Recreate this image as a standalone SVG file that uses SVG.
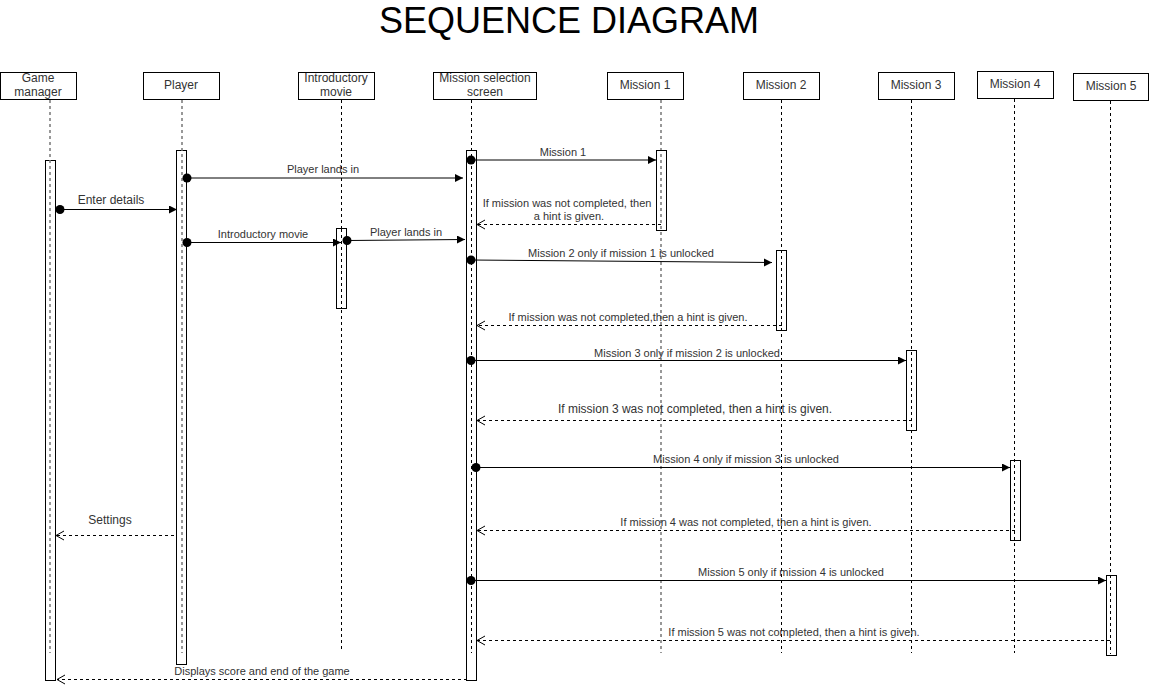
<svg xmlns="http://www.w3.org/2000/svg" width="1150" height="692" viewBox="0 0 1150 692">
<style>
text{font-family:"Liberation Sans",Arial,sans-serif;fill:#333;text-anchor:middle}
.title{font-size:36px;fill:#000}
.hd{font-size:12px}
.lb{font-size:11px}
.lb12{font-size:12px}
.box{fill:#fff;stroke:#000;stroke-width:1}
.act{fill:#fff;stroke:#000;stroke-width:1}
.life{stroke:#000;stroke-width:1;stroke-dasharray:3,3;fill:none}
.lifeg{stroke:#777;stroke-width:1.5;stroke-dasharray:3,3;fill:none}
.msg{stroke:#000;stroke-width:1;fill:none;marker-start:url(#dot);marker-end:url(#fa)}
.ret{stroke:#000;stroke-width:1;stroke-dasharray:3,3;fill:none;marker-end:url(#oa)}
</style>
<defs>
<marker id="fa" markerUnits="userSpaceOnUse" markerWidth="10" markerHeight="10" refX="8" refY="4" orient="auto"><path d="M0,0 L8,4 L0,8 z" fill="#000"/></marker>
<marker id="oa" markerUnits="userSpaceOnUse" markerWidth="12" markerHeight="12" refX="9" refY="5" orient="auto"><path d="M1,0.5 L9,5 L1,9.5" fill="none" stroke="#000" stroke-width="1"/></marker>
<marker id="dot" markerUnits="userSpaceOnUse" markerWidth="10" markerHeight="10" refX="5" refY="5" orient="auto"><circle cx="5" cy="5" r="4.5" fill="#000"/></marker>
</defs>
<rect width="1150" height="692" fill="#fff"/>
<text class="title" x="569" y="33">SEQUENCE DIAGRAM</text>

<g id="game-manager">
<rect class="box" x="0.5" y="72.5" width="76" height="27"/>
<text class="hd" x="38" y="82">Game</text><text class="hd" x="38" y="96">manager</text>
<rect class="act" x="45.5" y="160.5" width="10" height="520"/>
<line class="lifeg" x1="50" y1="100" x2="50" y2="653"/>
</g>
<g id="player">
<rect class="box" x="143.5" y="72.5" width="76" height="27"/>
<text class="hd" x="181" y="89">Player</text>
<rect class="act" x="176.5" y="150.5" width="10" height="514"/>
<line class="lifeg" x1="182" y1="100" x2="182" y2="653"/>
</g>
<g id="introductory-movie">
<rect class="box" x="298.5" y="72.5" width="76" height="27"/>
<text class="hd" x="336" y="82">Introductory</text><text class="hd" x="336" y="96">movie</text>
<line class="life" x1="341.5" y1="100" x2="341.5" y2="650"/>
<rect class="act" x="336.5" y="228.5" width="10" height="80"/>
<line class="life" x1="341.5" y1="229" x2="341.5" y2="308"/>
</g>
<g id="mission-selection-screen">
<rect class="box" x="433.5" y="72.5" width="103" height="27"/>
<text class="hd" x="485" y="82">Mission selection</text><text class="hd" x="485" y="96">screen</text>
<rect class="act" x="466.5" y="150.5" width="10" height="530"/>
<line class="life" x1="471.5" y1="100" x2="471.5" y2="653"/>
</g>
<g id="mission-1">
<rect class="box" x="607.5" y="72.5" width="76" height="27"/>
<text class="hd" x="645" y="89">Mission 1</text>
<line class="lifeg" x1="661" y1="100" x2="661" y2="653"/>
<rect class="act" x="656.5" y="150.5" width="10" height="80" fill-opacity="0"/>
</g>
<g id="mission-2">
<rect class="box" x="743.5" y="72.5" width="76" height="27"/>
<text class="hd" x="781" y="89">Mission 2</text>
<line class="life" x1="781.5" y1="100" x2="781.5" y2="653"/>
<rect class="act" x="776.5" y="250.5" width="10" height="80" fill-opacity="0"/>
</g>
<g id="mission-3">
<rect class="box" x="878.5" y="72.5" width="76" height="27"/>
<text class="hd" x="916" y="89">Mission 3</text>
<line class="life" x1="911.5" y1="100" x2="911.5" y2="653"/>
<rect class="act" x="906.5" y="350.5" width="10" height="80" fill-opacity="0"/>
</g>
<g id="mission-4">
<rect class="box" x="977.5" y="71.5" width="76" height="27"/>
<text class="hd" x="1015" y="88">Mission 4</text>
<line class="life" x1="1014.5" y1="99" x2="1014.5" y2="653"/>
<rect class="act" x="1010.5" y="460.5" width="10" height="80" fill-opacity="0"/>
</g>
<g id="mission-5">
<rect class="box" x="1073.5" y="73.5" width="75" height="27"/>
<text class="hd" x="1111" y="90">Mission 5</text>
<line class="life" x1="1110.5" y1="101" x2="1110.5" y2="654"/>
<rect class="act" x="1106.5" y="575.5" width="10" height="80" fill-opacity="0"/>
</g>

<g id="connectors">
<path class="msg" d="M187,178 H463"/>
<text class="lb" x="323" y="173">Player lands in</text>
<path class="msg" d="M60,209.5 H177"/>
<text class="lb12" x="111" y="204">Enter details</text>
<path class="msg" d="M187,242.5 H341"/>
<text class="lb" x="263" y="238">Introductory movie</text>
<path class="msg" d="M347,240.5 L465,239.5"/>
<text class="lb" x="406" y="236">Player lands in</text>
<path class="msg" d="M471,160 H656"/>
<text class="lb" x="563" y="156">Mission 1</text>
<path class="ret" d="M661,224.5 H477"/>
<text class="lb" x="567" y="207">If mission was not completed, then</text>
<text class="lb" x="569" y="220">a hint is given.</text>
<path class="msg" d="M471,260 L772,262.5"/>
<text class="lb" x="621" y="257">Mission 2 only if mission 1 is unlocked</text>
<path class="ret" d="M782,325.5 H477"/>
<text class="lb" x="628" y="321">If mission was not completed,then a hint is given.</text>
<path class="msg" d="M471,360.5 H906"/>
<text class="lb" x="687" y="357">Mission 3 only if mission 2 is unlocked</text>
<path class="ret" d="M912,420.5 H477"/>
<text class="lb12" x="695" y="413">If mission 3 was not completed, then a hint is given.</text>
<path class="msg" d="M476,467.5 H1010"/>
<text class="lb" x="746" y="463">Mission 4 only if mission 3 is unlocked</text>
<path class="ret" d="M1015,530.5 H477"/>
<text class="lb" x="746" y="526">If mission 4 was not completed, then a hint is given.</text>
<path class="msg" d="M471,580.5 H1106"/>
<text class="lb" x="791" y="576">Mission 5 only if mission 4 is unlocked</text>
<path class="ret" d="M1110,640.5 H477"/>
<text class="lb" x="794" y="636">If mission 5 was not completed, then a hint is given.</text>
<path class="ret" d="M174,535.5 H56"/>
<text class="lb12" x="110" y="524">Settings</text>
<path class="ret" d="M467,679.5 H57"/>
<text class="lb" x="262" y="675">Displays score and end of the game</text>
</g>
</svg>
